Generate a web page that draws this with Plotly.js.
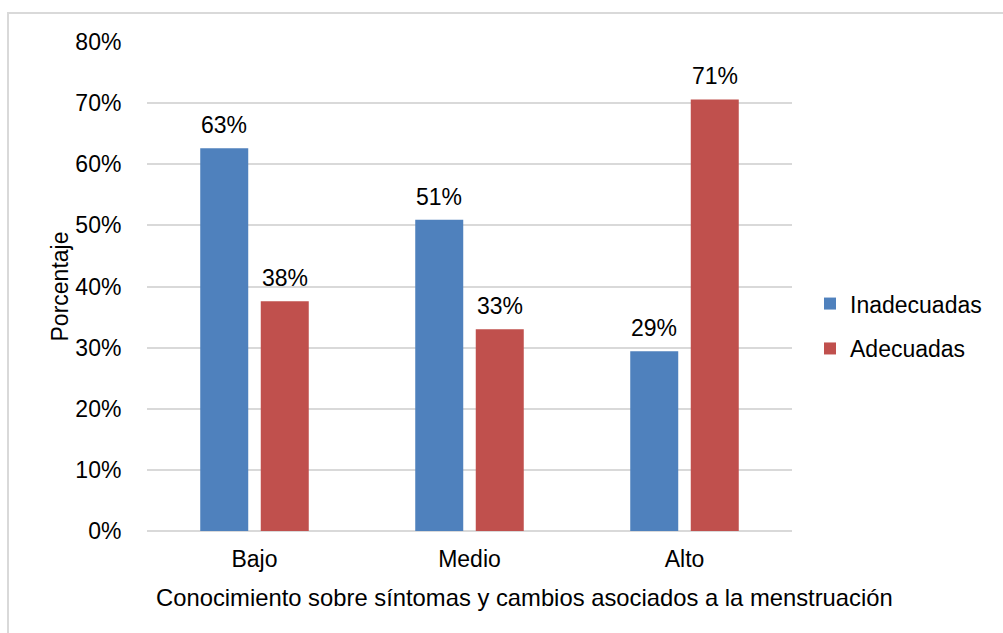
<!DOCTYPE html>
<html>
<head>
<meta charset="utf-8">
<script src="https://cdn.plot.ly/plotly-3.0.1.min.js"></script>
<style>
html,body{margin:0;padding:0;background:#fff;}
#chart{width:1003px;height:633px;}
</style>
</head>
<body>
<div id="chart"></div>
<script>
const categories = ["Bajo", "Medio", "Alto"];
const seriesNames = ["Inadecuadas", "Adecuadas"];
const inadecuadas = [0.626, 0.509, 0.294];
const adecuadas = [0.376, 0.330, 0.706];
const valueLabels = [["63%", "51%", "29%"], ["38%", "33%", "71%"]];
const yTitle = "Porcentaje";
const xTitle = "Conocimiento sobre síntomas y cambios asociados a la menstruación";

const FONT = "Liberation Sans, Arial, sans-serif";
const FS = 23;
const colors = ["#4F81BD", "#C0504D"];
const series = [inadecuadas, adecuadas];

const traces = series.map((vals, i) => ({
  type: "bar",
  name: seriesNames[i],
  x: categories,
  y: vals,
  marker: {color: colors[i]},
  legendgroup: "g" + i,
  hoverinfo: "x+y+name"
}));

const shifts = [-30.5, 30.5];
const annotations = [];
series.forEach((vals, i) => {
  vals.forEach((v, j) => {
    annotations.push({
      x: categories[j], y: v, xref: "x", yref: "y",
      text: valueLabels[i][j], showarrow: false,
      xshift: shifts[i], yshift: 8, yanchor: "bottom",
      font: {family: FONT, size: FS, color: "#000"}
    });
  });
});
annotations.push({
  xref: "paper", yref: "paper", x: (524 - 147) / 645, y: (531 - 597) / 489,
  xanchor: "center", yanchor: "middle", showarrow: false,
  text: xTitle, font: {family: FONT, size: 23.8, color: "#000"}
});

const layout = {
  width: 1003, height: 633,
  margin: {l: 147, r: 211, t: 42, b: 102, pad: 0, autoexpand: false},
  paper_bgcolor: "#fff", plot_bgcolor: "#fff",
  font: {family: FONT, size: FS, color: "#000"},
  barmode: "group",
  bargap: 0.437,
  bargroupgap: 0.207,
  showlegend: true,
  legend: {
    x: (810 - 147) / 645, xanchor: "left", y: 0.419, yanchor: "middle",
    font: {family: FONT, size: FS, color: "#000"},
    tracegroupgap: 12, itemwidth: 30, bgcolor: "rgba(0,0,0,0)"
  },
  xaxis: {
    type: "category",
    showgrid: false, zeroline: false, showline: false,
    ticks: "outside", ticklen: 7, tickcolor: "rgba(0,0,0,0)",
    tickfont: {family: FONT, size: FS, color: "#000"},
    automargin: false
  },
  yaxis: {
    range: [0, 0.8], dtick: 0.1, tick0: 0, tickformat: ".0%",
    showgrid: true, gridcolor: "#D9D9D9", gridwidth: 2,
    zeroline: true, zerolinecolor: "#D9D9D9", zerolinewidth: 2,
    showline: false,
    ticks: "outside", ticklen: 20, tickcolor: "rgba(0,0,0,0)",
    tickfont: {family: FONT, size: FS, color: "#000"},
    title: {text: yTitle, font: {family: FONT, size: FS, color: "#000"}},
    automargin: false
  },
  annotations: annotations,
  shapes: [{
    type: "rect", xref: "paper", yref: "paper",
    x0: (8 - 147) / 645, x1: 1.5, y0: -0.5, y1: 1 + (42 - 13) / 489,
    line: {color: "#D9D9D9", width: 2}, fillcolor: "rgba(0,0,0,0)", layer: "below"
  }]
};

Plotly.newPlot("chart", traces, layout, {displayModeBar: false, staticPlot: true});
</script>
</body>
</html>
